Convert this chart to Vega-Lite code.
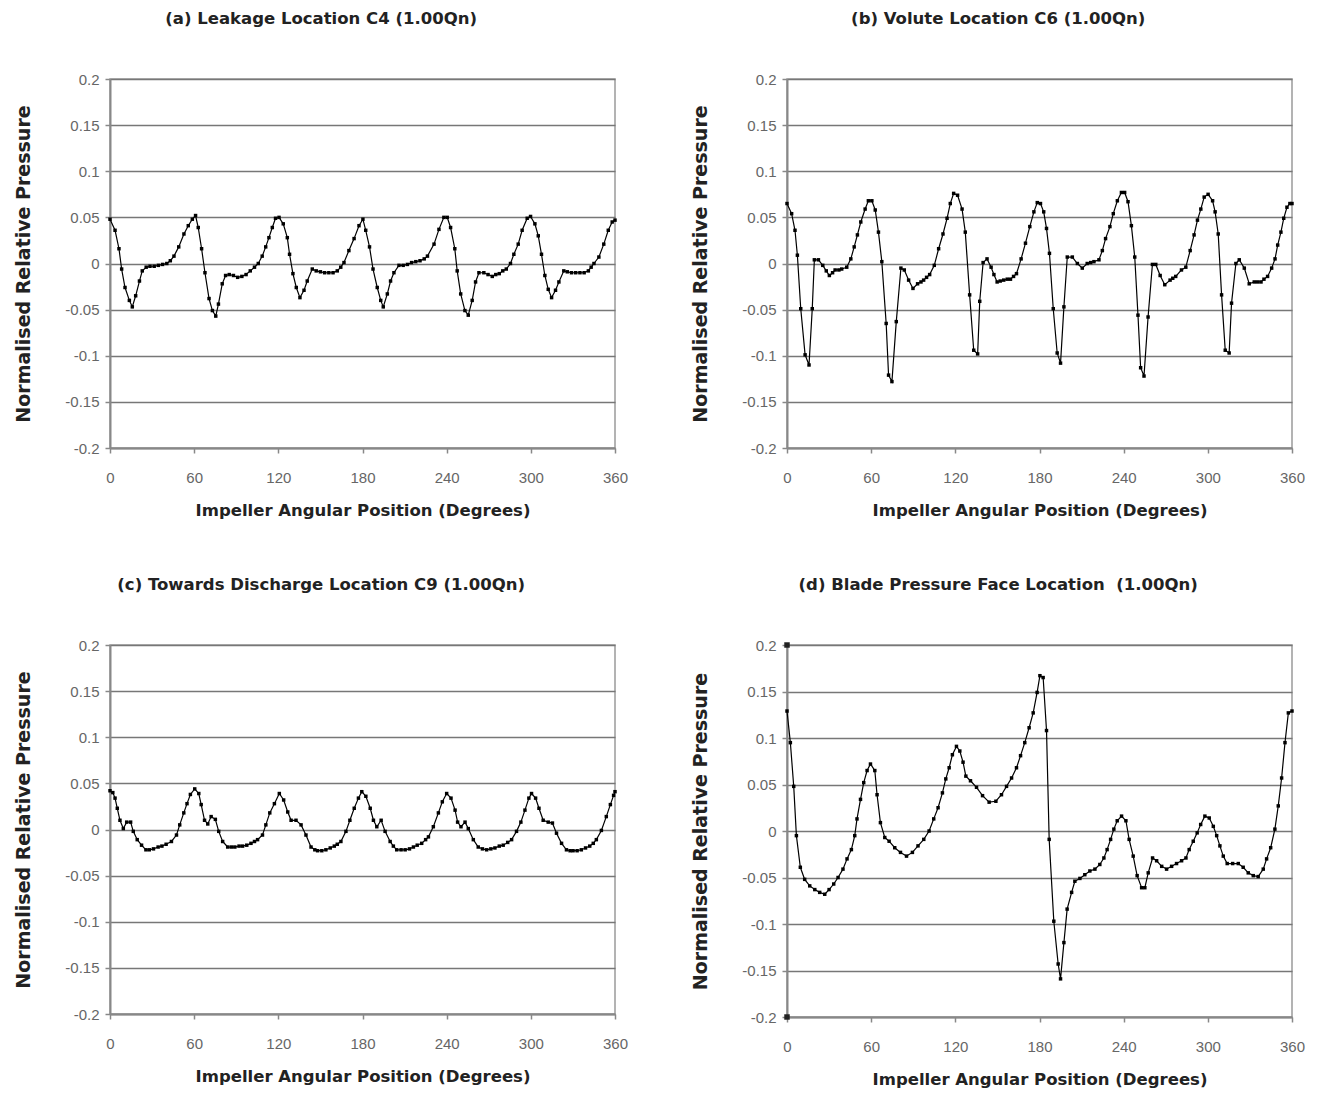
{
  "$schema": "https://vega.github.io/schema/vega-lite/v6.json",
  "background": "white",
  "padding": {"left": 14, "top": 9, "right": 5, "bottom": 5},
  "config": {
    "font": "Liberation Sans",
    "view": {"stroke": "#9a9a9a", "strokeWidth": 1.5},
    "axis": {"labelFont": "Liberation Sans", "labelFontSize": 15, "labelColor": "#666666", "titleFont": "DejaVu Sans", "titleFontSize": 16.5, "titleFontWeight": "bold", "titleColor": "#222222", "domainColor": "#888888", "domainWidth": 2, "tickColor": "#888888", "tickSize": 5, "tickWidth": 1.5, "gridColor": "#777777", "gridWidth": 1.5, "labelFlush": false},
    "axisX": {"grid": false, "labelPadding": 17, "titlePadding": 17},
    "axisY": {"labelPadding": 6, "titlePadding": 31, "titleFontSize": 19},
    "title": {"font": "DejaVu Sans", "fontSize": 16.5, "fontWeight": "bold", "color": "#222222", "anchor": "middle", "frame": "bounds", "offset": 45}
  },
  "columns": 2,
  "spacing": {"row": 55, "column": 62},
  "datasets": {
    "pts": [
      {"k":"a","x":0,"y":0.048},{"k":"a","x":3.6,"y":0.036},{"k":"a","x":6.4,"y":0.016},{"k":"a","x":8.3,"y":-0.006},{"k":"a","x":10.7,"y":-0.026},{"k":"a","x":13.8,"y":-0.04},{"k":"a","x":15.9,"y":-0.047},{"k":"a","x":18.3,"y":-0.035},{"k":"a","x":21,"y":-0.019},{"k":"a","x":23,"y":-0.008},{"k":"a","x":25.8,"y":-0.004},{"k":"a","x":28.5,"y":-0.003},{"k":"a","x":31.5,"y":-0.003},{"k":"a","x":34.5,"y":-0.002},{"k":"a","x":37.5,"y":-0.001},{"k":"a","x":40.5,"y":0},{"k":"a","x":43,"y":0.003},{"k":"a","x":45.6,"y":0.008},{"k":"a","x":49,"y":0.018},{"k":"a","x":52.7,"y":0.032},{"k":"a","x":55.8,"y":0.041},{"k":"a","x":58.7,"y":0.048},{"k":"a","x":61,"y":0.052},{"k":"a","x":62.9,"y":0.039},{"k":"a","x":65.3,"y":0.016},{"k":"a","x":67.7,"y":-0.01},{"k":"a","x":70.6,"y":-0.038},{"k":"a","x":73,"y":-0.051},{"k":"a","x":75.4,"y":-0.057},{"k":"a","x":77.3,"y":-0.044},{"k":"a","x":80,"y":-0.022},{"k":"a","x":82.4,"y":-0.013},{"k":"a","x":85,"y":-0.012},{"k":"a","x":88,"y":-0.013},{"k":"a","x":91,"y":-0.015},{"k":"a","x":94,"y":-0.014},{"k":"a","x":97,"y":-0.012},{"k":"a","x":100,"y":-0.008},{"k":"a","x":103,"y":-0.004},{"k":"a","x":105.7,"y":0},{"k":"a","x":108.5,"y":0.008},{"k":"a","x":111,"y":0.018},{"k":"a","x":113.3,"y":0.028},{"k":"a","x":115.7,"y":0.039},{"k":"a","x":118,"y":0.049},{"k":"a","x":120.5,"y":0.05},{"k":"a","x":123.5,"y":0.043},{"k":"a","x":126.4,"y":0.028},{"k":"a","x":128,"y":0.01},{"k":"a","x":130.4,"y":-0.011},{"k":"a","x":132.8,"y":-0.026},{"k":"a","x":135.4,"y":-0.037},{"k":"a","x":138.3,"y":-0.029},{"k":"a","x":140.6,"y":-0.019},{"k":"a","x":144.2,"y":-0.006},{"k":"a","x":147,"y":-0.008},{"k":"a","x":150,"y":-0.009},{"k":"a","x":153,"y":-0.01},{"k":"a","x":156,"y":-0.01},{"k":"a","x":159,"y":-0.01},{"k":"a","x":162,"y":-0.008},{"k":"a","x":164.5,"y":-0.004},{"k":"a","x":166.8,"y":0.001},{"k":"a","x":170.3,"y":0.014},{"k":"a","x":174,"y":0.027},{"k":"a","x":177.5,"y":0.041},{"k":"a","x":180.3,"y":0.048},{"k":"a","x":182.3,"y":0.036},{"k":"a","x":185,"y":0.018},{"k":"a","x":187.5,"y":-0.006},{"k":"a","x":190.5,"y":-0.026},{"k":"a","x":193,"y":-0.04},{"k":"a","x":194.8,"y":-0.047},{"k":"a","x":197.7,"y":-0.033},{"k":"a","x":200,"y":-0.019},{"k":"a","x":202.4,"y":-0.01},{"k":"a","x":206,"y":-0.002},{"k":"a","x":209,"y":-0.002},{"k":"a","x":212,"y":-0.001},{"k":"a","x":215,"y":0.001},{"k":"a","x":218,"y":0.002},{"k":"a","x":221,"y":0.003},{"k":"a","x":224,"y":0.005},{"k":"a","x":226.3,"y":0.008},{"k":"a","x":231,"y":0.021},{"k":"a","x":234.5,"y":0.037},{"k":"a","x":238,"y":0.05},{"k":"a","x":240.4,"y":0.05},{"k":"a","x":242.8,"y":0.039},{"k":"a","x":245.8,"y":0.016},{"k":"a","x":247.5,"y":-0.008},{"k":"a","x":250,"y":-0.033},{"k":"a","x":253,"y":-0.051},{"k":"a","x":255.4,"y":-0.056},{"k":"a","x":258.2,"y":-0.04},{"k":"a","x":260.6,"y":-0.02},{"k":"a","x":263,"y":-0.01},{"k":"a","x":266.5,"y":-0.01},{"k":"a","x":269.5,"y":-0.012},{"k":"a","x":272.5,"y":-0.014},{"k":"a","x":275,"y":-0.012},{"k":"a","x":277.5,"y":-0.011},{"k":"a","x":280,"y":-0.008},{"k":"a","x":282.5,"y":-0.006},{"k":"a","x":285.5,"y":0},{"k":"a","x":287.9,"y":0.01},{"k":"a","x":291,"y":0.021},{"k":"a","x":293.8,"y":0.036},{"k":"a","x":297.4,"y":0.049},{"k":"a","x":299.8,"y":0.051},{"k":"a","x":302.9,"y":0.043},{"k":"a","x":305.3,"y":0.03},{"k":"a","x":307.6,"y":0.01},{"k":"a","x":310,"y":-0.013},{"k":"a","x":312.4,"y":-0.028},{"k":"a","x":314.8,"y":-0.037},{"k":"a","x":317.6,"y":-0.029},{"k":"a","x":320,"y":-0.02},{"k":"a","x":323.5,"y":-0.008},{"k":"a","x":326,"y":-0.009},{"k":"a","x":329,"y":-0.01},{"k":"a","x":332,"y":-0.01},{"k":"a","x":335,"y":-0.01},{"k":"a","x":338,"y":-0.01},{"k":"a","x":341,"y":-0.008},{"k":"a","x":343,"y":-0.004},{"k":"a","x":345,"y":0},{"k":"a","x":348.5,"y":0.007},{"k":"a","x":352,"y":0.021},{"k":"a","x":355.2,"y":0.036},{"k":"a","x":358,"y":0.045},{"k":"a","x":360,"y":0.047},

      {"k":"b","x":0,"y":0.065},{"k":"b","x":3.3,"y":0.054},{"k":"b","x":5.7,"y":0.036},{"k":"b","x":7.4,"y":0.009},{"k":"b","x":9.8,"y":-0.049},{"k":"b","x":12.9,"y":-0.099},{"k":"b","x":15.7,"y":-0.11},{"k":"b","x":18,"y":-0.049},{"k":"b","x":19.5,"y":0.004},{"k":"b","x":22.4,"y":0.004},{"k":"b","x":25.5,"y":-0.002},{"k":"b","x":28,"y":-0.008},{"k":"b","x":30.2,"y":-0.013},{"k":"b","x":32.5,"y":-0.01},{"k":"b","x":34.3,"y":-0.007},{"k":"b","x":37,"y":-0.007},{"k":"b","x":39,"y":-0.006},{"k":"b","x":42.6,"y":-0.004},{"k":"b","x":45.5,"y":0.005},{"k":"b","x":47.9,"y":0.018},{"k":"b","x":50.2,"y":0.031},{"k":"b","x":52.6,"y":0.045},{"k":"b","x":55.7,"y":0.059},{"k":"b","x":58,"y":0.068},{"k":"b","x":60.5,"y":0.068},{"k":"b","x":62.9,"y":0.058},{"k":"b","x":65.2,"y":0.034},{"k":"b","x":67.6,"y":0.002},{"k":"b","x":70.7,"y":-0.065},{"k":"b","x":72.4,"y":-0.121},{"k":"b","x":74.8,"y":-0.128},{"k":"b","x":77.9,"y":-0.063},{"k":"b","x":81.2,"y":-0.005},{"k":"b","x":83.6,"y":-0.007},{"k":"b","x":86.7,"y":-0.018},{"k":"b","x":89.8,"y":-0.027},{"k":"b","x":93.1,"y":-0.022},{"k":"b","x":95.5,"y":-0.02},{"k":"b","x":97.4,"y":-0.018},{"k":"b","x":99.5,"y":-0.015},{"k":"b","x":101.7,"y":-0.012},{"k":"b","x":105,"y":-0.002},{"k":"b","x":108.1,"y":0.016},{"k":"b","x":111.2,"y":0.032},{"k":"b","x":114.1,"y":0.049},{"k":"b","x":116.4,"y":0.065},{"k":"b","x":118.8,"y":0.076},{"k":"b","x":121.6,"y":0.074},{"k":"b","x":124.8,"y":0.059},{"k":"b","x":127.1,"y":0.034},{"k":"b","x":130.2,"y":-0.034},{"k":"b","x":133.1,"y":-0.094},{"k":"b","x":135.9,"y":-0.098},{"k":"b","x":137.4,"y":-0.041},{"k":"b","x":139.8,"y":0.001},{"k":"b","x":142.6,"y":0.005},{"k":"b","x":145.5,"y":-0.004},{"k":"b","x":147.5,"y":-0.012},{"k":"b","x":149.8,"y":-0.02},{"k":"b","x":152,"y":-0.019},{"k":"b","x":154.5,"y":-0.018},{"k":"b","x":157,"y":-0.017},{"k":"b","x":159.3,"y":-0.017},{"k":"b","x":161.5,"y":-0.014},{"k":"b","x":163.6,"y":-0.011},{"k":"b","x":166.9,"y":0.005},{"k":"b","x":170,"y":0.022},{"k":"b","x":173.1,"y":0.04},{"k":"b","x":176,"y":0.056},{"k":"b","x":178.4,"y":0.066},{"k":"b","x":180.7,"y":0.065},{"k":"b","x":183,"y":0.056},{"k":"b","x":185,"y":0.038},{"k":"b","x":187.1,"y":0.011},{"k":"b","x":189.8,"y":-0.049},{"k":"b","x":192.6,"y":-0.097},{"k":"b","x":195,"y":-0.108},{"k":"b","x":197.4,"y":-0.047},{"k":"b","x":199.8,"y":0.007},{"k":"b","x":203.4,"y":0.007},{"k":"b","x":207,"y":0},{"k":"b","x":210.5,"y":-0.005},{"k":"b","x":214,"y":0},{"k":"b","x":216.5,"y":0.001},{"k":"b","x":218.8,"y":0.002},{"k":"b","x":222.4,"y":0.004},{"k":"b","x":224.8,"y":0.014},{"k":"b","x":227.1,"y":0.027},{"k":"b","x":230.2,"y":0.04},{"k":"b","x":232.6,"y":0.054},{"k":"b","x":235.5,"y":0.068},{"k":"b","x":238.4,"y":0.077},{"k":"b","x":240.7,"y":0.077},{"k":"b","x":243.1,"y":0.067},{"k":"b","x":245.5,"y":0.041},{"k":"b","x":247.9,"y":0.007},{"k":"b","x":250.2,"y":-0.056},{"k":"b","x":252.1,"y":-0.113},{"k":"b","x":254.5,"y":-0.122},{"k":"b","x":257.4,"y":-0.058},{"k":"b","x":260.5,"y":-0.001},{"k":"b","x":262.9,"y":-0.001},{"k":"b","x":266,"y":-0.013},{"k":"b","x":269.3,"y":-0.023},{"k":"b","x":273.1,"y":-0.018},{"k":"b","x":275,"y":-0.016},{"k":"b","x":277.1,"y":-0.014},{"k":"b","x":281.2,"y":-0.007},{"k":"b","x":284.3,"y":-0.004},{"k":"b","x":287.4,"y":0.014},{"k":"b","x":290.2,"y":0.031},{"k":"b","x":292.6,"y":0.047},{"k":"b","x":295,"y":0.059},{"k":"b","x":297.4,"y":0.072},{"k":"b","x":300.2,"y":0.075},{"k":"b","x":303.4,"y":0.068},{"k":"b","x":305.2,"y":0.056},{"k":"b","x":307.4,"y":0.032},{"k":"b","x":309.8,"y":-0.034},{"k":"b","x":312.4,"y":-0.094},{"k":"b","x":315.2,"y":-0.097},{"k":"b","x":316.9,"y":-0.043},{"k":"b","x":320,"y":0},{"k":"b","x":322.4,"y":0.004},{"k":"b","x":326,"y":-0.005},{"k":"b","x":329.5,"y":-0.022},{"k":"b","x":333.1,"y":-0.02},{"k":"b","x":335.5,"y":-0.02},{"k":"b","x":337.9,"y":-0.02},{"k":"b","x":340,"y":-0.017},{"k":"b","x":342.6,"y":-0.014},{"k":"b","x":345.5,"y":-0.005},{"k":"b","x":347.9,"y":0.005},{"k":"b","x":349.8,"y":0.02},{"k":"b","x":352.1,"y":0.034},{"k":"b","x":354.1,"y":0.049},{"k":"b","x":356.4,"y":0.061},{"k":"b","x":358.5,"y":0.065},{"k":"b","x":360,"y":0.065},

      {"k":"c","x":0,"y":0.042},{"k":"c","x":2,"y":0.04},{"k":"c","x":3.6,"y":0.034},{"k":"c","x":5.2,"y":0.023},{"k":"c","x":7.1,"y":0.01},{"k":"c","x":9.5,"y":0.001},{"k":"c","x":11.9,"y":0.008},{"k":"c","x":14.7,"y":0.008},{"k":"c","x":16.6,"y":-0.002},{"k":"c","x":19.4,"y":-0.011},{"k":"c","x":22.5,"y":-0.017},{"k":"c","x":25.6,"y":-0.022},{"k":"c","x":28,"y":-0.022},{"k":"c","x":31,"y":-0.021},{"k":"c","x":34.3,"y":-0.019},{"k":"c","x":37,"y":-0.018},{"k":"c","x":40,"y":-0.016},{"k":"c","x":43.8,"y":-0.013},{"k":"c","x":47.4,"y":-0.006},{"k":"c","x":49.7,"y":0.005},{"k":"c","x":52.6,"y":0.018},{"k":"c","x":54.9,"y":0.028},{"k":"c","x":57.3,"y":0.038},{"k":"c","x":60.4,"y":0.044},{"k":"c","x":63.3,"y":0.039},{"k":"c","x":65,"y":0.027},{"k":"c","x":67.4,"y":0.01},{"k":"c","x":69.7,"y":0.006},{"k":"c","x":72.1,"y":0.014},{"k":"c","x":75.1,"y":0.011},{"k":"c","x":77.5,"y":-0.002},{"k":"c","x":80.3,"y":-0.013},{"k":"c","x":83.9,"y":-0.019},{"k":"c","x":86.5,"y":-0.019},{"k":"c","x":89,"y":-0.019},{"k":"c","x":92,"y":-0.018},{"k":"c","x":94.5,"y":-0.018},{"k":"c","x":97.5,"y":-0.017},{"k":"c","x":100.5,"y":-0.015},{"k":"c","x":103,"y":-0.013},{"k":"c","x":105.2,"y":-0.011},{"k":"c","x":108.7,"y":-0.006},{"k":"c","x":111.1,"y":0.005},{"k":"c","x":113.9,"y":0.018},{"k":"c","x":117.2,"y":0.028},{"k":"c","x":120.7,"y":0.039},{"k":"c","x":123.8,"y":0.032},{"k":"c","x":126.7,"y":0.019},{"k":"c","x":129.1,"y":0.01},{"k":"c","x":132.6,"y":0.01},{"k":"c","x":136.2,"y":0.005},{"k":"c","x":139.7,"y":-0.006},{"k":"c","x":143.3,"y":-0.019},{"k":"c","x":146,"y":-0.022},{"k":"c","x":148,"y":-0.023},{"k":"c","x":151,"y":-0.023},{"k":"c","x":153.9,"y":-0.022},{"k":"c","x":157,"y":-0.02},{"k":"c","x":159.9,"y":-0.018},{"k":"c","x":162,"y":-0.016},{"k":"c","x":164.6,"y":-0.013},{"k":"c","x":168.2,"y":-0.002},{"k":"c","x":171,"y":0.01},{"k":"c","x":174.1,"y":0.023},{"k":"c","x":177.1,"y":0.034},{"k":"c","x":179.5,"y":0.041},{"k":"c","x":182.4,"y":0.036},{"k":"c","x":185.5,"y":0.023},{"k":"c","x":187.8,"y":0.01},{"k":"c","x":190.2,"y":0.003},{"k":"c","x":193.3,"y":0.01},{"k":"c","x":196.1,"y":-0.002},{"k":"c","x":199.7,"y":-0.013},{"k":"c","x":202,"y":-0.018},{"k":"c","x":204.4,"y":-0.022},{"k":"c","x":207.5,"y":-0.022},{"k":"c","x":210.4,"y":-0.022},{"k":"c","x":213.5,"y":-0.021},{"k":"c","x":216.3,"y":-0.019},{"k":"c","x":219,"y":-0.017},{"k":"c","x":222.2,"y":-0.015},{"k":"c","x":225,"y":-0.011},{"k":"c","x":227,"y":-0.008},{"k":"c","x":230.5,"y":0.003},{"k":"c","x":234.1,"y":0.018},{"k":"c","x":236.9,"y":0.03},{"k":"c","x":240,"y":0.039},{"k":"c","x":243.1,"y":0.034},{"k":"c","x":246,"y":0.021},{"k":"c","x":247.8,"y":0.008},{"k":"c","x":250.2,"y":0.003},{"k":"c","x":253.1,"y":0.008},{"k":"c","x":255.4,"y":0.001},{"k":"c","x":259,"y":-0.011},{"k":"c","x":262.5,"y":-0.019},{"k":"c","x":265.5,"y":-0.021},{"k":"c","x":268.5,"y":-0.022},{"k":"c","x":271.5,"y":-0.021},{"k":"c","x":274.4,"y":-0.02},{"k":"c","x":277.5,"y":-0.018},{"k":"c","x":280.3,"y":-0.017},{"k":"c","x":283.5,"y":-0.014},{"k":"c","x":286.3,"y":-0.011},{"k":"c","x":289.8,"y":-0.002},{"k":"c","x":292.9,"y":0.008},{"k":"c","x":295.8,"y":0.021},{"k":"c","x":298.6,"y":0.034},{"k":"c","x":300.5,"y":0.039},{"k":"c","x":303.4,"y":0.034},{"k":"c","x":305.8,"y":0.023},{"k":"c","x":308.8,"y":0.01},{"k":"c","x":312.4,"y":0.008},{"k":"c","x":315.4,"y":0.007},{"k":"c","x":318.3,"y":-0.004},{"k":"c","x":321.9,"y":-0.015},{"k":"c","x":325.4,"y":-0.022},{"k":"c","x":328,"y":-0.023},{"k":"c","x":330.1,"y":-0.023},{"k":"c","x":333,"y":-0.023},{"k":"c","x":336,"y":-0.022},{"k":"c","x":339,"y":-0.02},{"k":"c","x":342,"y":-0.018},{"k":"c","x":344.5,"y":-0.015},{"k":"c","x":346.7,"y":-0.011},{"k":"c","x":350.3,"y":-0.001},{"k":"c","x":353.8,"y":0.014},{"k":"c","x":356.7,"y":0.027},{"k":"c","x":359,"y":0.037},{"k":"c","x":360,"y":0.041},

      {"k":"d","x":0,"y":0.129},{"k":"d","x":2.4,"y":0.095},{"k":"d","x":4.8,"y":0.048},{"k":"d","x":6.7,"y":-0.005},{"k":"d","x":9.5,"y":-0.039},{"k":"d","x":12.6,"y":-0.052},{"k":"d","x":16.2,"y":-0.059},{"k":"d","x":19.8,"y":-0.063},{"k":"d","x":23.3,"y":-0.066},{"k":"d","x":26.9,"y":-0.068},{"k":"d","x":30,"y":-0.063},{"k":"d","x":33.3,"y":-0.057},{"k":"d","x":36.4,"y":-0.05},{"k":"d","x":39.9,"y":-0.041},{"k":"d","x":42.8,"y":-0.03},{"k":"d","x":45.9,"y":-0.02},{"k":"d","x":48.3,"y":-0.005},{"k":"d","x":49.9,"y":0.013},{"k":"d","x":52.4,"y":0.034},{"k":"d","x":54.7,"y":0.052},{"k":"d","x":57.1,"y":0.065},{"k":"d","x":59.5,"y":0.072},{"k":"d","x":62.6,"y":0.065},{"k":"d","x":64.2,"y":0.039},{"k":"d","x":66.6,"y":0.009},{"k":"d","x":69.7,"y":-0.007},{"k":"d","x":72.8,"y":-0.011},{"k":"d","x":76.8,"y":-0.018},{"k":"d","x":80.9,"y":-0.023},{"k":"d","x":85.2,"y":-0.027},{"k":"d","x":89.4,"y":-0.023},{"k":"d","x":93.4,"y":-0.016},{"k":"d","x":97.5,"y":-0.009},{"k":"d","x":101.3,"y":0},{"k":"d","x":104.6,"y":0.013},{"k":"d","x":107.7,"y":0.025},{"k":"d","x":110.8,"y":0.041},{"k":"d","x":113.2,"y":0.056},{"k":"d","x":115.6,"y":0.068},{"k":"d","x":117.9,"y":0.082},{"k":"d","x":120.8,"y":0.091},{"k":"d","x":123.2,"y":0.086},{"k":"d","x":125.5,"y":0.074},{"k":"d","x":127.5,"y":0.059},{"k":"d","x":130.8,"y":0.054},{"k":"d","x":135.1,"y":0.047},{"k":"d","x":139.4,"y":0.038},{"k":"d","x":144.1,"y":0.031},{"k":"d","x":148.9,"y":0.032},{"k":"d","x":152.9,"y":0.039},{"k":"d","x":156.5,"y":0.048},{"k":"d","x":160.1,"y":0.057},{"k":"d","x":163.6,"y":0.068},{"k":"d","x":166.5,"y":0.081},{"k":"d","x":169.5,"y":0.095},{"k":"d","x":172.6,"y":0.111},{"k":"d","x":175.5,"y":0.127},{"k":"d","x":178.3,"y":0.149},{"k":"d","x":180.3,"y":0.167},{"k":"d","x":182.6,"y":0.165},{"k":"d","x":185,"y":0.108},{"k":"d","x":186.9,"y":-0.009},{"k":"d","x":190.2,"y":-0.097},{"k":"d","x":193.3,"y":-0.143},{"k":"d","x":195,"y":-0.159},{"k":"d","x":197.4,"y":-0.12},{"k":"d","x":199.7,"y":-0.084},{"k":"d","x":202.9,"y":-0.066},{"k":"d","x":205.2,"y":-0.054},{"k":"d","x":208.8,"y":-0.051},{"k":"d","x":212.3,"y":-0.047},{"k":"d","x":215.9,"y":-0.043},{"k":"d","x":219.5,"y":-0.041},{"k":"d","x":223,"y":-0.036},{"k":"d","x":225.9,"y":-0.029},{"k":"d","x":228.2,"y":-0.02},{"k":"d","x":230.7,"y":-0.009},{"k":"d","x":233,"y":0.002},{"k":"d","x":235.4,"y":0.011},{"k":"d","x":238.5,"y":0.016},{"k":"d","x":241.6,"y":0.011},{"k":"d","x":243.9,"y":-0.009},{"k":"d","x":246.8,"y":-0.027},{"k":"d","x":249.6,"y":-0.048},{"k":"d","x":252.8,"y":-0.061},{"k":"d","x":255.1,"y":-0.061},{"k":"d","x":257.5,"y":-0.045},{"k":"d","x":260.6,"y":-0.029},{"k":"d","x":263.5,"y":-0.032},{"k":"d","x":267.1,"y":-0.038},{"k":"d","x":270.6,"y":-0.041},{"k":"d","x":274.2,"y":-0.038},{"k":"d","x":277.7,"y":-0.035},{"k":"d","x":281.3,"y":-0.032},{"k":"d","x":284.4,"y":-0.029},{"k":"d","x":286.7,"y":-0.02},{"k":"d","x":289.6,"y":-0.011},{"k":"d","x":292.4,"y":-0.002},{"k":"d","x":294.9,"y":0.007},{"k":"d","x":297.9,"y":0.016},{"k":"d","x":301,"y":0.014},{"k":"d","x":303.9,"y":0.005},{"k":"d","x":306.3,"y":-0.005},{"k":"d","x":308.6,"y":-0.016},{"k":"d","x":311,"y":-0.027},{"k":"d","x":313.8,"y":-0.035},{"k":"d","x":317.7,"y":-0.035},{"k":"d","x":321.7,"y":-0.035},{"k":"d","x":325.2,"y":-0.039},{"k":"d","x":328.8,"y":-0.045},{"k":"d","x":332.4,"y":-0.048},{"k":"d","x":335.9,"y":-0.049},{"k":"d","x":339.5,"y":-0.041},{"k":"d","x":341.9,"y":-0.03},{"k":"d","x":344.8,"y":-0.018},{"k":"d","x":347.8,"y":0.002},{"k":"d","x":350.2,"y":0.027},{"k":"d","x":352.6,"y":0.057},{"k":"d","x":355,"y":0.095},{"k":"d","x":357.4,"y":0.127},{"k":"d","x":360,"y":0.129},
      {"k":"e","x":0,"y":0.2},{"k":"e","x":0,"y":-0.2}
    ]
  },
  "concat": [
    {
      "width": 505, "height": 369,
      "title": {"text": "(a) Leakage Location C4 (1.00Qn)"},
      "data": {"name": "pts"},
      "transform": [{"filter": "datum.k === 'a'"}],
      "mark": {"type": "line", "color": "#000000", "strokeWidth": 1.2, "point": {"shape": "square", "size": 12, "filled": true, "color": "#000000"}},
      "encoding": {
        "x": {"field": "x", "type": "quantitative", "scale": {"domain": [0, 360], "nice": false}, "axis": {"values": [0, 60, 120, 180, 240, 300, 360], "title": "Impeller Angular Position (Degrees)"}},
        "y": {"field": "y", "type": "quantitative", "scale": {"domain": [-0.2, 0.2], "nice": false, "zero": false}, "axis": {"values": [-0.2, -0.15, -0.1, -0.05, 0, 0.05, 0.1, 0.15, 0.2], "labelExpr": "'' + datum.value", "title": "Normalised Relative Pressure"}}
      }
    },
    {
      "width": 505, "height": 369,
      "title": {"text": "(b) Volute Location C6 (1.00Qn)"},
      "data": {"name": "pts"},
      "transform": [{"filter": "datum.k === 'b'"}],
      "mark": {"type": "line", "color": "#000000", "strokeWidth": 1.2, "point": {"shape": "square", "size": 12, "filled": true, "color": "#000000"}},
      "encoding": {
        "x": {"field": "x", "type": "quantitative", "scale": {"domain": [0, 360], "nice": false}, "axis": {"values": [0, 60, 120, 180, 240, 300, 360], "title": "Impeller Angular Position (Degrees)"}},
        "y": {"field": "y", "type": "quantitative", "scale": {"domain": [-0.2, 0.2], "nice": false, "zero": false}, "axis": {"values": [-0.2, -0.15, -0.1, -0.05, 0, 0.05, 0.1, 0.15, 0.2], "labelExpr": "'' + datum.value", "title": "Normalised Relative Pressure"}}
      }
    },
    {
      "width": 505, "height": 369,
      "title": {"text": "(c) Towards Discharge Location C9 (1.00Qn)"},
      "data": {"name": "pts"},
      "transform": [{"filter": "datum.k === 'c'"}],
      "mark": {"type": "line", "color": "#000000", "strokeWidth": 1.2, "point": {"shape": "square", "size": 12, "filled": true, "color": "#000000"}},
      "encoding": {
        "x": {"field": "x", "type": "quantitative", "scale": {"domain": [0, 360], "nice": false}, "axis": {"values": [0, 60, 120, 180, 240, 300, 360], "title": "Impeller Angular Position (Degrees)"}},
        "y": {"field": "y", "type": "quantitative", "scale": {"domain": [-0.2, 0.2], "nice": false, "zero": false}, "axis": {"values": [-0.2, -0.15, -0.1, -0.05, 0, 0.05, 0.1, 0.15, 0.2], "labelExpr": "'' + datum.value", "title": "Normalised Relative Pressure"}}
      }
    },
    {
      "width": 505, "height": 372,
      "title": {"text": "(d) Blade Pressure Face Location\u00a0 (1.00Qn)"},
      "data": {"name": "pts"},
      "encoding": {
        "x": {"field": "x", "type": "quantitative", "scale": {"domain": [0, 360], "nice": false}, "axis": {"values": [0, 60, 120, 180, 240, 300, 360], "title": "Impeller Angular Position (Degrees)"}},
        "y": {"field": "y", "type": "quantitative", "scale": {"domain": [-0.2, 0.2], "nice": false, "zero": false}, "axis": {"values": [-0.2, -0.15, -0.1, -0.05, 0, 0.05, 0.1, 0.15, 0.2], "labelExpr": "'' + datum.value", "title": "Normalised Relative Pressure"}}
      },
      "layer": [
        {
          "transform": [{"filter": "datum.k === 'd'"}],
          "mark": {"type": "line", "color": "#000000", "strokeWidth": 1.2, "point": {"shape": "square", "size": 12, "filled": true, "color": "#000000"}}
        },
        {
          "transform": [{"filter": "datum.k === 'e'"}],
          "mark": {"type": "point", "shape": "square", "size": 30, "filled": true, "color": "#222222", "opacity": 1}
        }
      ]
    }
  ]
}
